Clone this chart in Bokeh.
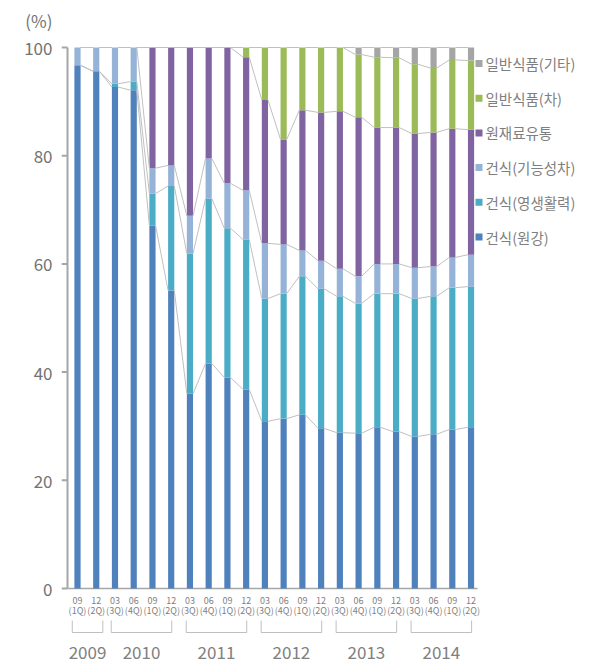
import numpy as np
from bokeh.plotting import figure
from bokeh.models import ColumnDataSource, LinearAxis, FixedTicker, Range1d
from bokeh.core.properties import value
from bokeh.embed import file_html
from bokeh.resources import INLINE

# ---------------- data ----------------
months = ["09", "12",
          "03", "06", "09", "12",
          "03", "06", "09", "12",
          "03", "06", "09", "12",
          "03", "06", "09", "12",
          "03", "06", "09", "12"]
quarters = ["(1Q)", "(2Q)",
            "(3Q)", "(4Q)", "(1Q)", "(2Q)",
            "(3Q)", "(4Q)", "(1Q)", "(2Q)",
            "(3Q)", "(4Q)", "(1Q)", "(2Q)",
            "(3Q)", "(4Q)", "(1Q)", "(2Q)",
            "(3Q)", "(4Q)", "(1Q)", "(2Q)"]
years = ["2009", "2010", "2011", "2012", "2013", "2014"]
year_counts = [2, 4, 4, 4, 4, 4]

series_names = ["건식(원강)", "건식(영생활력)", "건식(기능성차)", "원재료유통", "일반식품(차)", "일반식품(기타)"]
series_colors = ["#4F81BD", "#4BACC6", "#95B3D7", "#8064A2", "#9BBB59", "#A5A5A5"]

wonkang = [96.7, 95.6, 92.7, 92.1, 67.1, 55.1, 36.0, 41.6, 39.0, 36.8, 30.9,
           31.4, 32.1, 29.6, 28.8, 28.7, 29.8, 29.0, 28.1, 28.5, 29.4, 29.8]
youngsaeng = [0.0, 0.0, 0.6, 1.6, 5.9, 19.3, 25.9, 30.5, 27.6, 27.7, 22.7,
              23.1, 25.6, 25.8, 25.2, 24.0, 24.7, 25.5, 25.5, 25.5, 26.2, 26.0]
gineung = [3.3, 4.4, 6.7, 6.3, 4.7, 3.8, 7.0, 7.4, 8.3, 9.1, 10.2,
           9.1, 4.8, 5.2, 5.1, 5.0, 5.5, 5.5, 5.7, 5.5, 5.6, 5.9]
raw_material = [0.0, 0.0, 0.0, 0.0, 22.3, 21.8, 31.1, 20.5, 25.1, 24.6, 26.5,
                19.4, 25.9, 27.4, 29.1, 29.4, 25.2, 25.2, 24.8, 24.8, 23.8, 23.1]
general_tea = [0.0, 0.0, 0.0, 0.0, 0.0, 0.0, 0.0, 0.0, 0.0, 1.8, 9.7,
               17.0, 11.6, 12.0, 11.8, 11.6, 13.0, 12.9, 12.8, 11.9, 12.7, 12.8]
general_etc = [0.0, 0.0, 0.0, 0.0, 0.0, 0.0, 0.0, 0.0, 0.0, 0.0, 0.0,
               0.0, 0.0, 0.0, 0.0, 1.3, 1.8, 1.9, 3.1, 3.8, 2.3, 2.4]

y_ticks = [0, 20, 40, 60, 80, 100]
unit_label = "(%)"

# ---------------- layout helpers ----------------
FONT = "Noto Sans CJK KR"
BAR_W = 0.33
X0_PAGE, DX = 77.0, 18.74        # picture x of first bar, px per bar
Y0_PAGE, DY = 588.0, 5.41        # picture y of value 0, px per unit
LEFT = 61                         # frame left (outer end of tick marks)
AXIS_X = 67                       # picture x of y-axis line
W, H = 595, 665


def dx(px):
    return (px - X0_PAGE) / DX


def dy(py):
    return (Y0_PAGE - py) / DY


x_start = dx(LEFT)
x_end = x_start + (W - LEFT) / DX
y_end = dy(0)
y_start = dy(H)

stack = np.array([wonkang, youngsaeng, gineung, raw_material, general_tea, general_etc])
n = stack.shape[1]
xs = np.arange(n, dtype=float)

data = {"x": xs}
for name, vals in zip(series_names, stack):
    data[name] = vals
src = ColumnDataSource(data)

p = figure(width=W, height=H, x_range=Range1d(x_start, x_end), y_range=Range1d(y_start, y_end),
           output_backend="svg", toolbar_location=None,
           x_axis_location=None, y_axis_location=None,
           min_border_left=LEFT, min_border_right=0, min_border_top=0, min_border_bottom=0)
p.outline_line_color = None
p.background_fill_color = "white"
p.border_fill_color = "white"
p.grid.visible = False

# y axis (labels from Bokeh's axis; the unit label sits on an extra tick above 100)
unit_pos = dy(20)
yax = LinearAxis(ticker=FixedTicker(ticks=y_ticks + [unit_pos]))
yax.major_label_overrides = {unit_pos: unit_label}
yax.axis_line_color = None
yax.major_tick_line_color = None
yax.major_tick_out = 0
yax.major_tick_in = 0
yax.minor_tick_line_color = None
yax.major_label_standoff = 9
yax.major_label_text_font = FONT
yax.major_label_text_font_size = "17px"
yax.major_label_text_color = "#737373"
p.add_layout(yax, "left")

# axis line and tick marks drawn inside the frame
p.segment(x0=[dx(AXIS_X)], y0=[0], x1=[dx(AXIS_X)], y1=[100], line_color="#A6A6A6", line_width=2)
p.segment(x0=[dx(LEFT)] * len(y_ticks), y0=y_ticks, x1=[dx(AXIS_X)] * len(y_ticks), y1=y_ticks,
          line_color="#A6A6A6", line_width=2)

# baseline
p.segment(x0=[dx(AXIS_X)], y0=[0], x1=[n - 1 + 0.35], y1=[0], line_color="#A6A6A6", line_width=1.5)

# bars
p.vbar_stack(series_names, x="x", width=BAR_W, color=series_colors, line_color=None, source=src)

# series lines
cum = np.cumsum(stack, axis=0)
for k in range(cum.shape[0]):
    p.segment(x0=xs[:-1] + BAR_W / 2, y0=cum[k, :-1], x1=xs[1:] - BAR_W / 2, y1=cum[k, 1:],
              line_color="#C0C0C0", line_width=1)

# category labels
p.text(x=xs, y=[dy(600)] * n, text=months, text_font=value(FONT), text_font_size="9px",
       text_align="center", text_baseline="middle", text_color="#7F7F7F")
p.text(x=xs, y=[dy(610)] * n, text=quarters, text_font=value(FONT), text_font_size="9px",
       text_align="center", text_baseline="middle", text_color="#7F7F7F")

# year brackets and labels
bx, by, cx = [], [], []
start = 0
for yr, cnt in zip(years, year_counts):
    first, last = start, start + cnt - 1
    pl = 0.28 if cnt == 2 else 0.2
    pr = 0.35 if cnt == 2 else 0.03
    a, b = first - pl, last + pr
    bx.append([a, a, b, b])
    by.append([dy(620), dy(632), dy(632), dy(620)])
    cx.append((a + b) / 2)
    start += cnt
p.multi_line(xs=bx, ys=by, line_color="#BFBFBF", line_width=1)
p.text(x=cx, y=[dy(652)] * len(years), text=years, text_font=value(FONT), text_font_size="17px",
       text_align="center", text_baseline="middle", text_color="#808080")

# legend (top to bottom: reversed series order)
leg_names = series_names[::-1]
leg_colors = series_colors[::-1]
leg_y = [dy(63 + j * 34.7) for j in range(len(leg_names))]
p.scatter(x=[dx(478.5)] * len(leg_names), y=leg_y, marker="square", size=7,
          fill_color=leg_colors, line_color=None)
p.text(x=[dx(485)] * len(leg_names), y=leg_y, text=leg_names, text_font=value(FONT),
       text_font_size="14.5px", text_align="left", text_baseline="middle", text_color="#7F7F7F")

open("out.html", "w").write(file_html(p, INLINE))
